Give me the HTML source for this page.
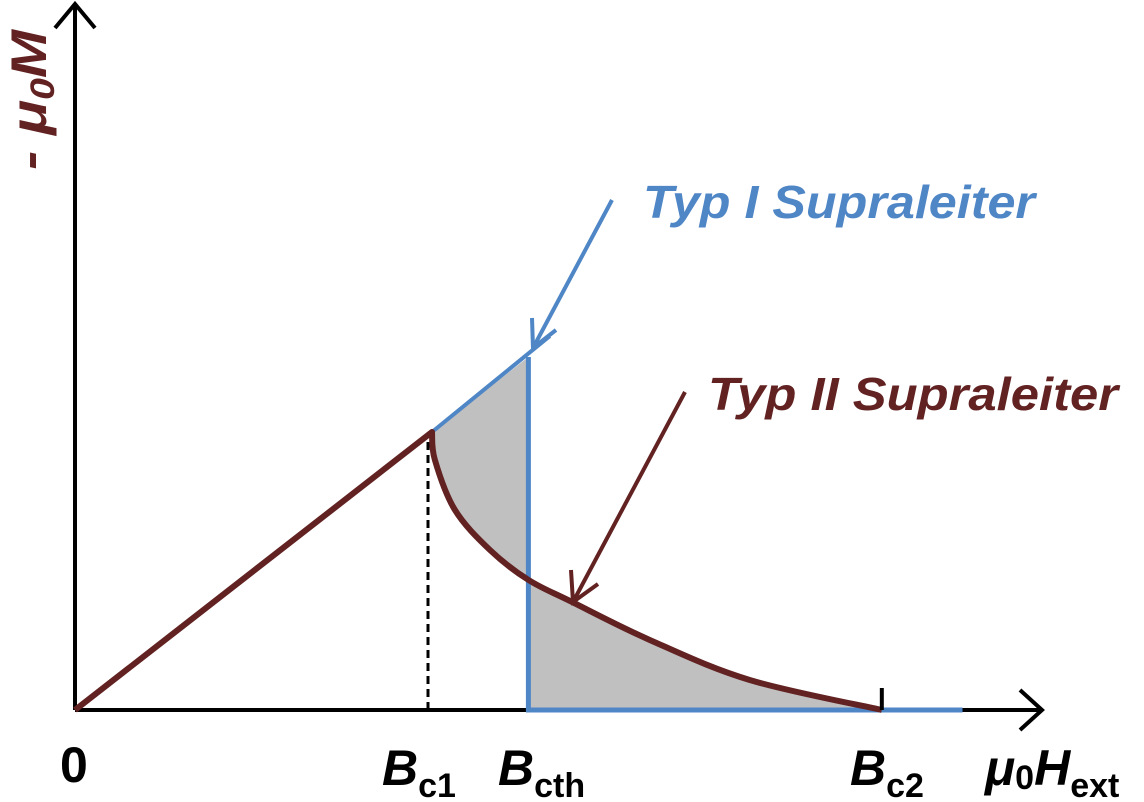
<!DOCTYPE html>
<html><head><meta charset="utf-8"><style>
html,body{margin:0;padding:0;background:#fff}
svg{display:block}
text{font-family:"Liberation Sans",Carlito,sans-serif;font-weight:bold}
</style></head><body>
<svg id="chart" width="1144" height="802" viewBox="0 0 1144 802">
<g id="fill"></g>
<g id="lines"></g>
<g id="axes">
  <line x1="75" y1="710" x2="1040" y2="710" stroke="#000" stroke-width="4"/>
  <polyline points="1020,690 1042,710 1020,730" fill="none" stroke="#000" stroke-width="4"/>
  <line x1="75" y1="710" x2="75" y2="6" stroke="#000" stroke-width="4"/>
  <polyline points="55,28 75,4 95,28" fill="none" stroke="#000" stroke-width="4"/>
</g>
<g id="overlay"></g>
<text transform="translate(46,170) rotate(-90)" font-size="50" fill="#622222" font-style="italic" textLength="140" lengthAdjust="spacingAndGlyphs">- μ<tspan font-size="34" dy="8">0</tspan><tspan dy="-8">M</tspan></text>
<text x="60" y="782" font-size="50">0</text>
<text x="382" y="785" font-size="50" font-style="italic">B<tspan font-style="normal" font-size="34" dy="12">c1</tspan></text>
<text x="498" y="785" font-size="50" font-style="italic">B<tspan font-style="normal" font-size="34" dy="12">cth</tspan></text>
<text x="850" y="785" font-size="50" font-style="italic">B<tspan font-style="normal" font-size="34" dy="12">c2</tspan></text>
<text x="985" y="785" font-size="50" font-style="italic">μ<tspan font-style="normal" font-size="34" dy="4">0</tspan><tspan dy="-4">H</tspan><tspan font-style="normal" font-size="34" dy="12">ext</tspan></text>
<text x="643" y="218" font-size="46" font-style="italic" fill="#4f86c6" textLength="392" lengthAdjust="spacingAndGlyphs">Typ I Supraleiter</text>
<text x="708" y="410" font-size="46" font-style="italic" fill="#622222" textLength="410" lengthAdjust="spacingAndGlyphs">Typ II Supraleiter</text>
</svg>
<script>
const bc1 = 1.0;
const bcth = 1.27;
const bc2 = 2.26;
const blueEnd = [1.33, 1.345];
const curveH = [1.0, 1.008, 1.064, 1.162, 1.27, 1.39, 1.61, 1.89, 2.26];
const curveM = [1.0, 0.90, 0.72, 0.576, 0.468, 0.39, 0.252, 0.108, 0.0];
const xMax = 2.5;

const X = h => 75 + h * 357;
const Y = m => 710 - m * 278;
const NS = 'http://www.w3.org/2000/svg';
function mk(parent, tag, attrs){const e=document.createElementNS(NS,tag);for(const k in attrs)e.setAttribute(k,attrs[k]);document.getElementById(parent).appendChild(e);return e;}
const P = curveH.map((h,i)=>[X(h),Y(curveM[i])]);
function smooth(pts){
  let d='';
  for(let i=0;i<pts.length-1;i++){
    const p0=pts[i-1]||pts[i],p1=pts[i],p2=pts[i+1],p3=pts[i+2]||pts[i+1];
    const c1=[p1[0]+(p2[0]-p0[0])/6,p1[1]+(p2[1]-p0[1])/6];
    const c2=[p2[0]-(p3[0]-p1[0])/6,p2[1]-(p3[1]-p1[1])/6];
    d+=' C'+c1.join(',')+' '+c2.join(',')+' '+p2.join(',');
  }
  return d;
}
const curveD = smooth(P);
const revD = smooth(P.slice().reverse());

const fp = mk('fill','path',{d:'M'+X(bc2)+','+Y(0)+revD+' L'+X(bcth)+','+Y(bcth)+' L'+X(bcth)+','+Y(0)+' Z',fill:'#c0c0c0'});



const d = mk('lines','line',{x1:X(bc1)-4,y1:Y(0),x2:X(bc1)-4,y2:Y(bc1)+8,stroke:'#000','stroke-width':3,'stroke-dasharray':'8,5'});



const b = mk('overlay','polyline',{points:[X(bc1)+','+Y(bc1),X(blueEnd[0])+','+Y(blueEnd[1])].join(' '),fill:'none',stroke:'#4f86c6','stroke-width':4});


const b2 = mk('overlay','polyline',{points:[X(bcth)+','+Y(bcth),X(bcth)+','+Y(0),(X(xMax)-5)+','+Y(0)].join(' '),fill:'none',stroke:'#4f86c6','stroke-width':5});



const r = mk('overlay','path',{d:'M'+X(0)+','+Y(0)+' L'+P[0].join(',')+curveD,fill:'none',stroke:'#622222','stroke-width':6,'stroke-linejoin':'round'});



const t = mk('overlay','line',{x1:X(bc2),y1:Y(0)-22,x2:X(bc2),y2:Y(0),stroke:'#000','stroke-width':4});



const a1 = mk('overlay','g',{stroke:'#4f86c6','stroke-width':4,fill:'none'});


a1.innerHTML='<line x1="612" y1="200" x2="533" y2="348"/><polyline points="532,318 533,348 556,330"/>';
const a2 = mk('overlay','g',{stroke:'#622222','stroke-width':4,fill:'none'});


a2.innerHTML='<line x1="685" y1="392" x2="573" y2="602"/><polyline points="571,570 573,602 598,584"/>';
</script>
</body></html>
